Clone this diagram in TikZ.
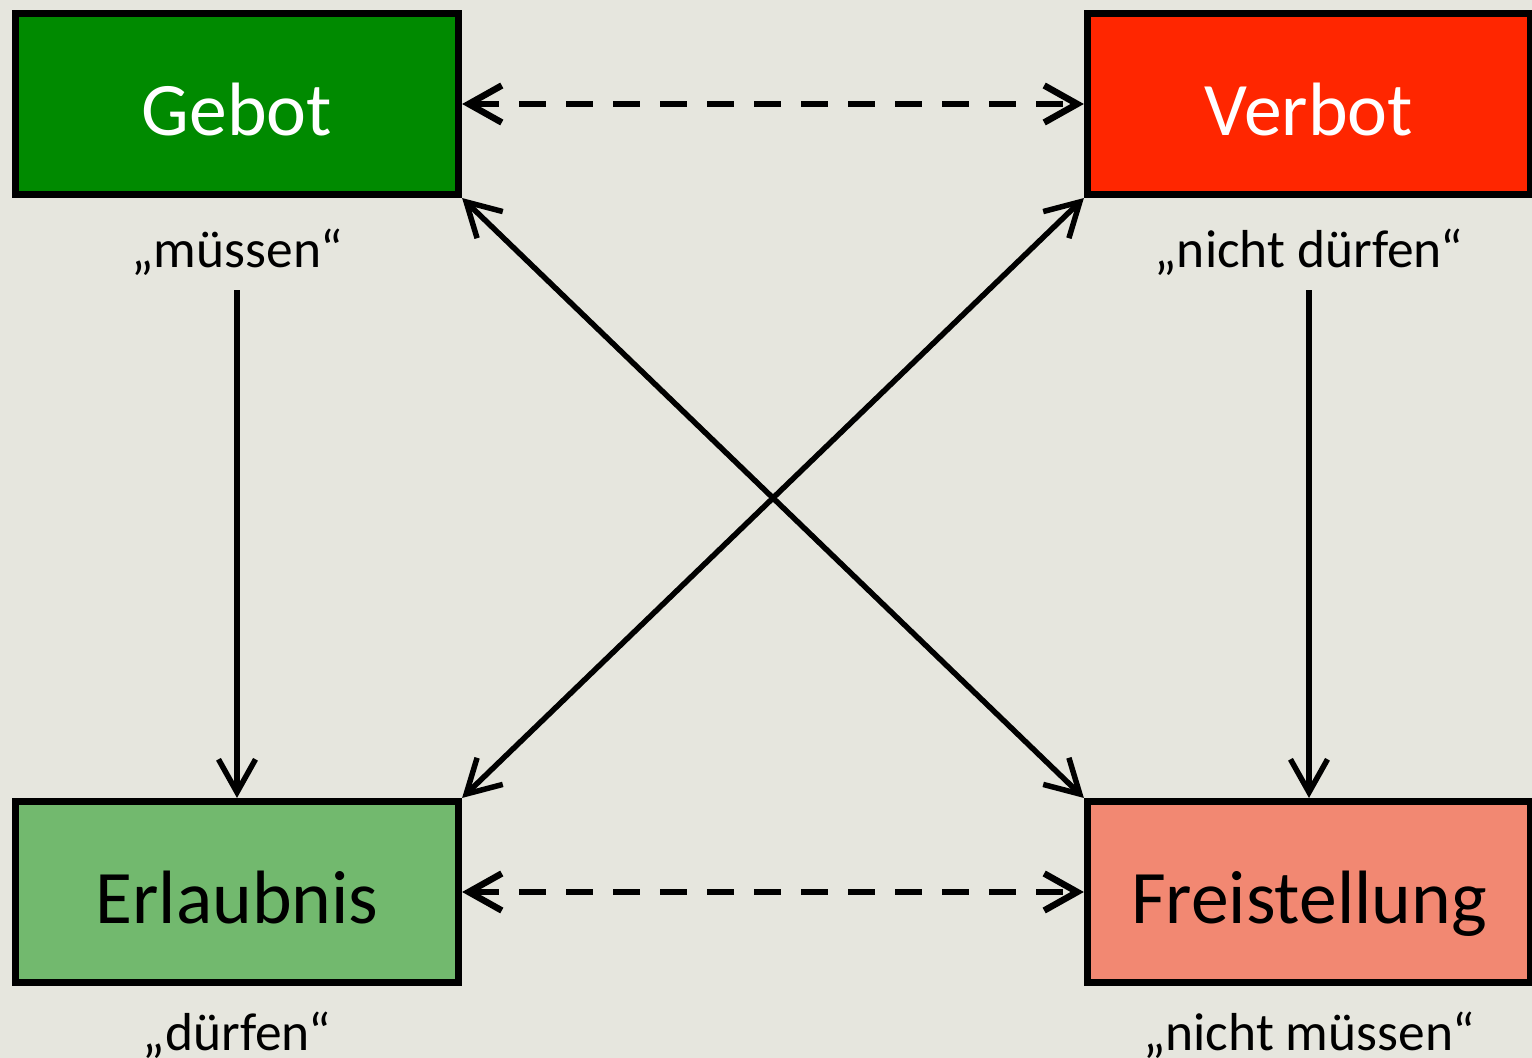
\documentclass[tikz,border=0pt]{standalone}
\usepackage{fontspec}
\setmainfont{Carlito}
\usetikzlibrary{arrows.meta}
\usetikzlibrary{positioning}

\definecolor{bgcol}{HTML}{E6E6DE}
\definecolor{gebotgreen}{HTML}{008A00}
\definecolor{verbotred}{HTML}{FF2600}
\definecolor{erlaubgreen}{HTML}{72B96E}
\definecolor{freisalmon}{HTML}{F28872}

\begin{document}
\begin{tikzpicture}[x=0.01cm, y=-0.01cm,
    box/.style={draw=black, line width=0.07cm, minimum width=4.43cm, minimum height=1.81cm,
        inner sep=0pt, text height=0.67cm, text depth=0.05cm, font=\fontsize{21.5}{24}\selectfont},
    modal/.style={inner sep=0pt, font=\fontsize{15.2}{18}\selectfont},
    rel/.style={line width=0.055cm},
    kontra/.style={line width=0.065cm, dash pattern=on 0.27cm off 0.2cm},
    >={Straight Barb[length=0.33cm,width=0.37cm]}]
        \fill[bgcol] (0,0) rectangle (1532,1058);
        \useasboundingbox (0,0) rectangle (1532,1058);

        \node[box, fill=gebotgreen, text=white] (gebot) at (237,104) {Gebot};
        \node[box, fill=verbotred, text=white] (verbot) at (1309,104) {Verbot};
        \node[box, fill=erlaubgreen] (erlaubnis) at (237,892) {Erlaubnis};
        \node[box, fill=freisalmon] (freistellung) at (1309,892) {Freistellung};

        \node[modal, below=0.3cm of gebot] (muessen) {„müssen“};
        \node[modal, below=0.3cm of verbot] (nduerfen) {„nicht dürfen“};
        \node[modal, below=0.25cm of erlaubnis] (duerfen) {„dürfen“};
        \node[modal, below=0.25cm of freistellung] (nmuessen) {„nicht müssen“};

        % Kontraritaet / Subkontraritaet
        \draw[kontra, <->] (gebot) -- (verbot);
        \draw[kontra, <->] (erlaubnis) -- (freistellung);
        % Subalternation
        \draw[rel, ->, shorten <=0.14cm] (muessen.south) -- (erlaubnis.north);
        \draw[rel, ->, shorten <=0.14cm] (nduerfen.south) -- (freistellung.north);
        % Kontradiktion
        \draw[rel, <->] (gebot.south east) -- (freistellung.north west);
        \draw[rel, <->] (erlaubnis.north east) -- (verbot.south west);
\end{tikzpicture}
\end{document}
